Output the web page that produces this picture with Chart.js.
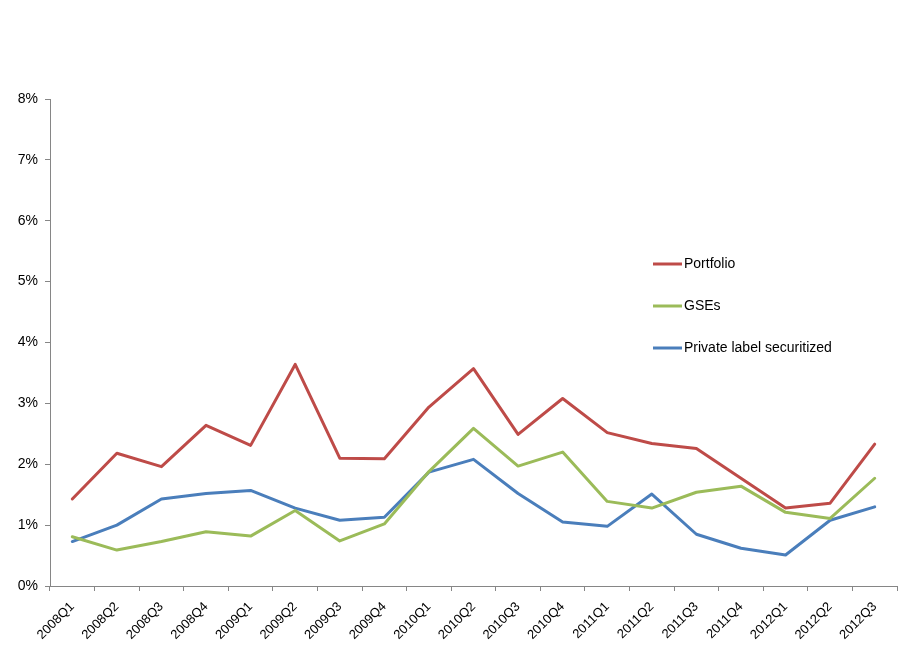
<!DOCTYPE html>
<html>
<head>
<meta charset="utf-8">
<script src="https://cdn.jsdelivr.net/npm/chart.js@4/dist/chart.umd.min.js"></script>
<style>
  html, body { margin: 0; padding: 0; background: #fff; }
  #wrap { width: 910px; height: 661px; }
</style>
</head>
<body>
<div id="wrap"><canvas id="chart"></canvas></div>
<script>
/* data */
const quarters = ["2008Q1", "2008Q2", "2008Q3", "2008Q4", "2009Q1", "2009Q2", "2009Q3", "2009Q4",
  "2010Q1", "2010Q2", "2010Q3", "2010Q4", "2011Q1", "2011Q2", "2011Q3", "2011Q4",
  "2012Q1", "2012Q2", "2012Q3"];
const portfolio = [1.43, 2.18, 1.96, 2.64, 2.31, 3.64, 2.10, 2.09, 2.94, 3.57,
  2.49, 3.08, 2.52, 2.34, 2.26, 1.77, 1.28, 1.36, 2.33];
const gses = [0.81, 0.59, 0.73, 0.89, 0.82, 1.24, 0.74, 1.02, 1.88, 2.59,
  1.97, 2.20, 1.39, 1.28, 1.54, 1.64, 1.21, 1.11, 1.77];
const privateLabel = [0.73, 1.00, 1.43, 1.52, 1.57, 1.28, 1.08, 1.13, 1.87, 2.08,
  1.52, 1.05, 0.98, 1.51, 0.85, 0.62, 0.51, 1.08, 1.30];
const seriesNames = ["Portfolio", "GSEs", "Private label securitized"];
const yMax = 8;

const FONT = "'Liberation Sans', Arial, sans-serif";
const axisColor = "#868686";

/* legend drawn inside the plot, like the Excel original */
const insideLegend = {
  id: "insideLegend",
  afterDraw(chart) {
    const { ctx } = chart;
    const x = 653, y0 = 264, step = 42;
    ctx.save();
    ctx.font = "14px " + FONT;
    ctx.textBaseline = "middle";
    chart.data.datasets.forEach((ds, i) => {
      const y = y0 + i * step;
      ctx.strokeStyle = ds.borderColor;
      ctx.lineWidth = 3;
      ctx.beginPath();
      ctx.moveTo(x, y);
      ctx.lineTo(x + 29, y);
      ctx.stroke();
      ctx.fillStyle = "#000";
      ctx.fillText(ds.label, x + 31, y);
    });
    ctx.restore();
  }
};

Chart.defaults.font.family = FONT;
Chart.defaults.font.size = 13;
Chart.defaults.color = "#000";

new Chart(document.getElementById("chart"), {
  type: "line",
  data: {
    labels: quarters,
    datasets: [
      { label: seriesNames[0], data: portfolio, borderColor: "#BE4B48" },
      { label: seriesNames[1], data: gses, borderColor: "#9BBB59" },
      { label: seriesNames[2], data: privateLabel, borderColor: "#4A7EBB" }
    ]
  },
  options: {
    responsive: true,
    maintainAspectRatio: false,
    animation: false,
    layout: { padding: { top: 99, right: 13, left: 0, bottom: 0 } },
    elements: {
      line: { borderWidth: 3, tension: 0, borderCapStyle: "round", borderJoinStyle: "round" },
      point: { radius: 0, hoverRadius: 0 }
    },
    plugins: { legend: { display: false }, tooltip: { enabled: false } },
    scales: {
      x: {
        offset: true,
        grid: { display: true, offset: true, drawOnChartArea: false, drawTicks: true, tickLength: 5, color: axisColor },
        border: { color: axisColor },
        ticks: { minRotation: 45, maxRotation: 45, padding: 8, autoSkip: false, font: { size: 13 } },
        afterFit: s => { s.height = 75; }
      },
      y: {
        min: 0,
        max: yMax,
        grid: { display: true, drawOnChartArea: false, drawTicks: true, tickLength: 5, color: axisColor },
        border: { color: axisColor },
        ticks: { stepSize: 1, padding: 7, font: { size: 14 }, callback: v => v + "%" },
        afterFit: s => { s.width = 50; }
      }
    }
  },
  plugins: [insideLegend]
});
</script>
</body>
</html>
